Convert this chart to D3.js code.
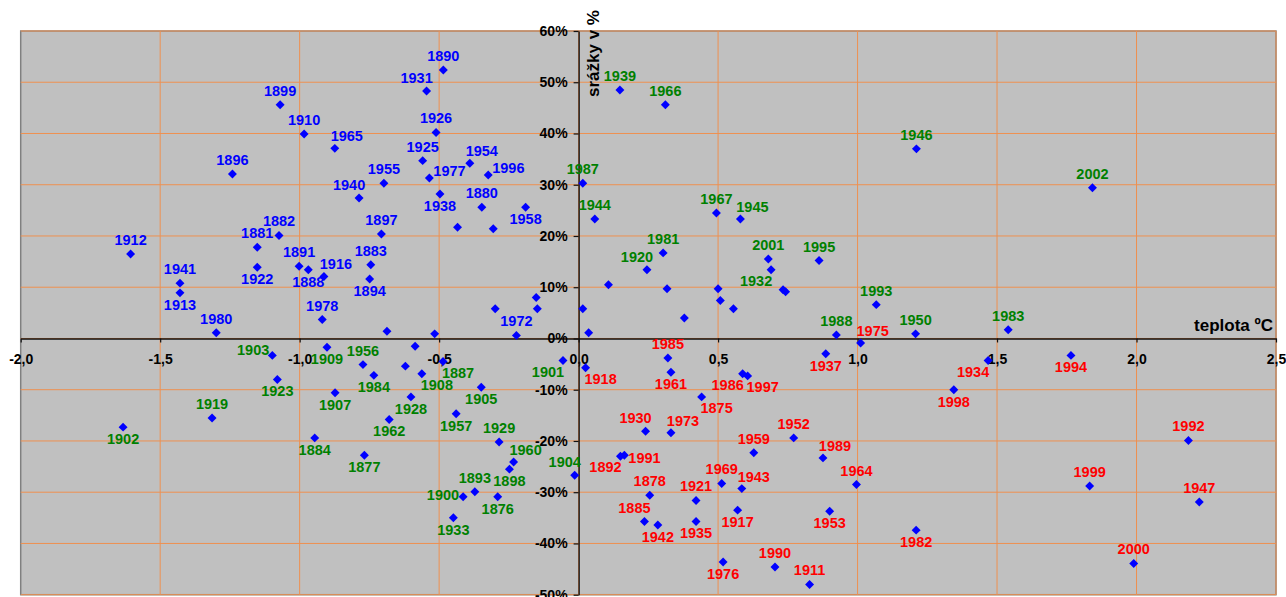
<!DOCTYPE html>
<html>
<head>
<meta charset="utf-8">
<script src="https://cdn.jsdelivr.net/npm/d3@7"></script>
<style>
  body { margin: 0; background: #fff; }
  svg text { font-family: "Liberation Sans", Arial, sans-serif; font-weight: bold; }
</style>
</head>
<body>
<svg id="diag"></svg>
<script>
// years (null = point without label)
var years = [
    1899, 1910, 1896, 1882, 1881, 1912, 1922, 1891, 1888, 1941, 1913, 1916, 1978, 1980,
    1890, 1931, 1926, 1965, 1925, 1954, 1977, 1996, 1955, 1940, 1938, 1880, 1958, 1897,
    1883, 1894, 1972, null, null, null, null, null, null, null,
    1987, 1939, 1966, 1944, 1967, 1945, 1981, 1920, 2001, 1995, 1932, 1993, 1946, 2002,
    1988, 1950, 1983, null, null, null, null, null, null, null, null, null, null,
    1903, 1909, 1956, 1984, 1908, 1887, 1901, 1923, 1907, 1905, 1928, 1957, 1962, 1919,
    1902, 1884, 1929, 1960, 1898, 1877, 1893, 1900, 1876, 1933, 1904, null, null,
    1975, 1937, 1985, 1918, 1961, 1986, 1997, 1875, 1930, 1973, 1952, 1959, 1892, 1991,
    1989, 1969, 1943, 1964, 1878, 1921, 1917, 1953, 1885, 1942, 1935, 1982, 1976, 1990,
    1911, 1934, 1994, 1998, 1992, 1999, 1947, 2000
];
// temperature deviation (ºC)
var teplota = [
    -1.070, -0.984, -1.241, -1.074, -1.152, -1.606, -1.152, -1.002, -0.969, -1.429, -1.429, -0.913, -0.919, -1.299,
    -0.485, -0.545, -0.511, -0.874, -0.559, -0.390, -0.535, -0.324, -0.698, -0.787, -0.497, -0.347, -0.190, -0.707,
    -0.745, -0.749, -0.223, -0.434, -0.306, -0.152, -0.299, -0.148, -0.687, -0.516,
    0.015, 0.148, 0.311, 0.058, 0.494, 0.580, 0.303, 0.245, 0.680, 0.862, 0.690, 1.067, 1.211, 1.842,
    0.924, 1.208, 1.540, 0.015, 0.036, 0.107, 0.317, 0.733, 0.742, 0.500, 0.508, 0.555, 0.379,
    -1.098, -0.902, -0.773, -0.734, -0.562, -0.486, -0.056, -1.080, -0.873, -0.349, -0.601, -0.439, -0.679, -1.314,
    -1.633, -0.946, -0.285, -0.233, -0.248, -0.768, -0.372, -0.414, -0.290, -0.449, -0.014, -0.586, -0.621,
    1.011, 0.886, 0.320, 0.025, 0.331, 0.588, 0.606, 0.441, 0.240, 0.331, 0.771, 0.628, 0.150, 0.164,
    0.876, 0.513, 0.585, 0.996, 0.255, 0.421, 0.570, 0.900, 0.236, 0.284, 0.421, 1.210, 0.518, 0.704,
    0.828, 1.468, 1.765, 1.345, 2.186, 1.832, 2.225, 1.990
];
// precipitation deviation (%)
var srazky = [
    45.6, 39.9, 32.1, 20.1, 17.8, 16.5, 13.9, 14.1, 13.4, 10.8, 8.9, 12.1, 3.7, 1.1,
    52.4, 48.3, 40.2, 37.1, 34.7, 34.2, 31.3, 31.9, 30.3, 27.4, 28.2, 25.6, 25.6, 20.4,
    14.4, 11.6, 0.6, 21.7, 21.4, 8.0, 5.8, 5.8, 1.4, 0.9,
    30.3, 48.5, 45.6, 23.3, 24.5, 23.3, 16.7, 13.4, 15.5, 15.2, 13.4, 6.6, 37.0, 29.4,
    0.7, 0.9, 1.7, 5.8, 1.1, 10.5, 9.7, 9.5, 9.1, 9.7, 7.4, 5.8, 4.0,
    -3.3, -1.7, -5.1, -7.2, -6.9, -4.5, -4.3, -8.0, -10.6, -9.5, -11.4, -14.7, -15.8, -15.5,
    -17.3, -19.4, -20.2, -24.1, -25.5, -22.8, -29.9, -30.9, -30.9, -35.0, -26.7, -1.5, -5.4,
    -0.9, -3.0, -3.8, -5.7, -6.6, -6.9, -7.3, -11.4, -18.1, -18.4, -19.4, -22.3, -23.0, -22.8,
    -23.3, -28.3, -29.3, -28.5, -30.6, -31.6, -33.5, -33.7, -35.7, -36.4, -35.7, -37.4, -43.6, -44.6,
    -48.0, -4.3, -3.3, -10.0, -19.9, -28.8, -31.9, -43.9
];

var xTicks = [-2, -1.5, -1, -0.5, 0, 0.5, 1, 1.5, 2, 2.5];
var yTicks = [-50, -40, -30, -20, -10, 0, 10, 20, 30, 40, 50, 60];

// where the year label sits around its point (default above)
var labelPlace = {
    1922: 'b', 1888: 'b', 1913: 'b', 1916: 'ar', 1931: 'al', 1965: 'ar', 1954: 'ar',
    1977: 'ru', 1996: 'ru', 1940: 'al', 1938: 'b', 1958: 'b', 1894: 'b',
    1945: 'ar', 1920: 'al', 1932: 'bl',
    1903: 'lu', 1909: 'b', 1984: 'b', 1908: 'br', 1887: 'br', 1901: 'bl', 1923: 'b',
    1907: 'b', 1905: 'b', 1928: 'b', 1957: 'b', 1962: 'b', 1902: 'b', 1884: 'b',
    1960: 'ar', 1898: 'b', 1877: 'b', 1900: 'l', 1876: 'b', 1933: 'b', 1904: 'al',
    1975: 'ar', 1937: 'b', 1918: 'br', 1961: 'b', 1986: 'bl', 1997: 'br', 1875: 'br',
    1930: 'al', 1973: 'ar', 1892: 'bl', 1991: 'r', 1989: 'ar', 1943: 'ar', 1917: 'b',
    1953: 'b', 1885: 'al', 1942: 'b', 1935: 'b', 1982: 'b', 1976: 'b', 1934: 'bl',
    1994: 'b', 1998: 'b'
};
var placeOffsets = {
    a:  {anchor: 'middle', dx: 0,   dy: -9},
    b:  {anchor: 'middle', dx: 0,   dy: 17},
    al: {anchor: 'middle', dx: -10, dy: -8},
    ar: {anchor: 'middle', dx: 12,  dy: -7},
    bl: {anchor: 'middle', dx: -15, dy: 16},
    br: {anchor: 'middle', dx: 15,  dy: 16},
    l:  {anchor: 'end',    dx: -4,  dy: 3},
    lu: {anchor: 'end',    dx: -3,  dy: 0},
    r:  {anchor: 'start',  dx: 4,   dy: 8},
    ru: {anchor: 'start',  dx: 4,   dy: -2}
};

var svg_w = 1286, svg_h = 597;
var plot = {left: 20.7, right: 1276, top: 31, bottom: 594.7};

function labelColor(t, p) {
    if (t < 0 && p >= 0) return '#0000FF';
    if (t >= 0 && p < 0) return '#FF0000';
    return '#008000';
}

function draw() {
    var svg = d3.select('#diag')
        .attr('width', svg_w)
        .attr('height', svg_h);

    var x = d3.scaleLinear().domain([-2, 2.5]).range([plot.left, plot.right]);
    var y = d3.scaleLinear().domain([-50, 60]).range([plot.bottom, plot.top]);

    var loc = d3.formatLocale({decimal: ',', thousands: ' ', grouping: [3], currency: ['', ''], minus: '-'});
    var fx = loc.format('.1f');

    // plot background + frame
    svg.append('rect')
        .attr('x', plot.left).attr('y', plot.top)
        .attr('width', plot.right - plot.left).attr('height', plot.bottom - plot.top)
        .attr('fill', '#C0C0C0')
        .attr('stroke', '#808080')
        .attr('stroke-width', 1.5);

    // grid
    var grid = svg.append('g').attr('class', 'grid');
    grid.selectAll('line.v')
        .data(xTicks.filter((d) => d > -2))
        .enter().append('line')
        .attr('class', 'v')
        .attr('x1', (d) => x(d)).attr('x2', (d) => x(d))
        .attr('y1', plot.top).attr('y2', plot.bottom)
        .attr('stroke', '#EE9050').attr('stroke-width', 1);
    grid.selectAll('line.h')
        .data(yTicks)
        .enter().append('line')
        .attr('class', 'h')
        .attr('x1', plot.left).attr('x2', plot.right)
        .attr('y1', (d) => y(d)).attr('y2', (d) => y(d))
        .attr('stroke', '#EE9050').attr('stroke-width', 1);

    // axes crossing at zero
    var xAxis = d3.axisBottom(x)
        .tickValues(xTicks)
        .tickFormat(fx)
        .tickSizeInner(4)
        .tickSizeOuter(0)
        .tickPadding(12);
    var gx = svg.append('g')
        .attr('transform', 'translate(0,' + y(0) + ')')
        .call(xAxis);

    var yAxis = d3.axisLeft(y)
        .tickValues(yTicks)
        .tickFormat((d) => d + '%')
        .tickSizeInner(5)
        .tickSizeOuter(0)
        .tickPadding(6);
    var gy = svg.append('g')
        .attr('transform', 'translate(' + x(0) + ',0)')
        .call(yAxis);

    [gx, gy].forEach((g) => {
        g.select('.domain').attr('stroke', '#111').attr('stroke-width', 1.4);
        g.selectAll('.tick line').attr('stroke', '#111').attr('stroke-width', 1.2);
        g.selectAll('.tick text')
            .attr('fill', '#000')
            .style('font-size', '14px')
            .style('font-family', '"Liberation Sans", Arial, sans-serif')
            .style('font-weight', 'bold');
    });

    // axis titles
    svg.append('text')
        .attr('transform', 'translate(599,97) rotate(-90)')
        .attr('text-anchor', 'start')
        .style('font-size', '17px')
        .attr('fill', '#000')
        .text('srážky v %');
    svg.append('text')
        .attr('x', 1273).attr('y', 331)
        .attr('text-anchor', 'end')
        .style('font-size', '17px')
        .attr('fill', '#000')
        .text('teplota ºC');

    // points
    var pts = years.map((yr, i) => ({year: yr, t: teplota[i], p: srazky[i]}));

    svg.append('g').attr('id', 'points')
        .selectAll('path')
        .data(pts)
        .enter().append('path')
        .attr('d', d3.symbol().type(d3.symbolSquare).size(40))
        .attr('transform', (d) => 'translate(' + x(d.t) + ',' + y(d.p) + ') rotate(45)')
        .attr('fill', '#0000FF');

    // year labels
    svg.append('g').attr('id', 'names')
        .selectAll('text')
        .data(pts.filter((d) => d.year != null))
        .enter().append('text')
        .each(function(d) {
            var o = placeOffsets[labelPlace[d.year] || 'a'];
            d3.select(this)
                .attr('x', x(d.t) + o.dx)
                .attr('y', y(d.p) + o.dy)
                .attr('text-anchor', o.anchor);
        })
        .style('font-size', '14.5px')
        .attr('fill', (d) => labelColor(d.t, d.p))
        .text((d) => d.year);
}

draw();
</script>
</body>
</html>
